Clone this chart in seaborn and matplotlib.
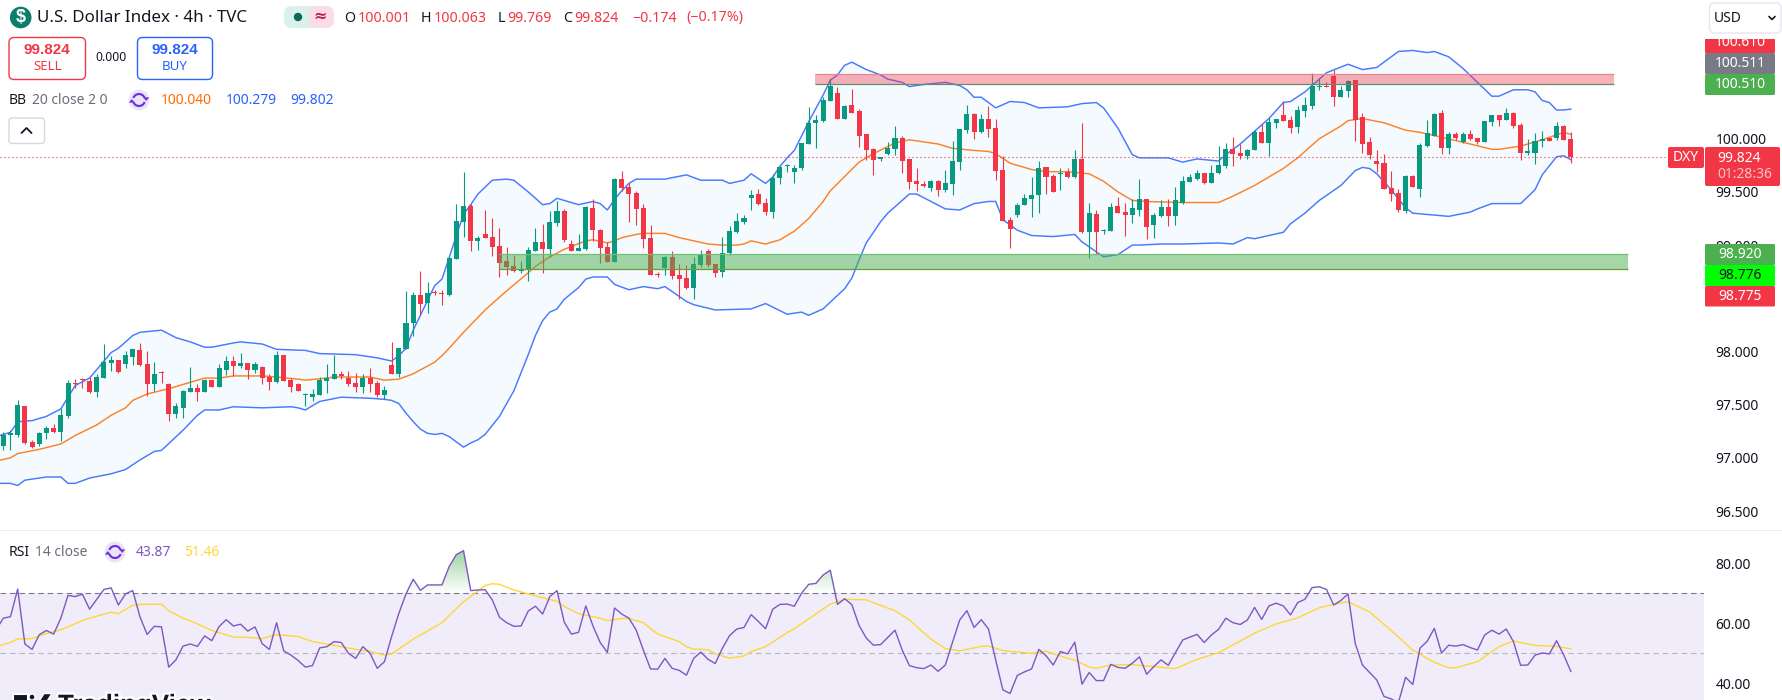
import numpy as np
import pandas as pd
import matplotlib
matplotlib.use("Agg")
import matplotlib.pyplot as plt
import matplotlib.patheffects as pe
from matplotlib.patches import Rectangle, FancyBboxPatch, Circle, Arc, Polygon
from matplotlib.path import Path
from matplotlib.colors import LinearSegmentedColormap
import seaborn as sns

# ---- 4h candles, one entry per bar ---------------------------------------
opens = [
    97.11,97.21,97.21,97.49,97.15,97.13,97.23,97.28,97.24,97.39,
    97.70,97.74,97.72,97.62,97.75,97.89,97.92,97.88,97.95,98.01,
    97.88,97.69,97.81,97.69,97.41,97.47,97.62,97.66,97.62,97.73,
    97.67,97.83,97.91,97.86,97.89,97.83,97.85,97.76,97.71,97.97,
    97.73,97.69,97.59,97.57,97.59,97.72,97.74,97.79,97.75,97.70,
    97.67,97.75,97.70,97.59,97.87,97.79,98.02,98.27,98.53,98.46,
    98.56,98.55,98.53,98.87,99.22,99.37,99.04,99.10,99.08,98.99,
    98.85,98.80,98.76,98.77,98.94,99.03,98.96,99.21,99.32,99.01,
    98.94,98.96,99.35,99.14,98.98,98.84,99.62,99.55,99.49,99.35,
    99.07,98.73,98.78,98.89,98.72,98.69,98.60,98.81,98.94,98.82,
    98.75,98.93,99.12,99.22,99.44,99.48,99.40,99.31,99.63,99.74,
    99.69,99.72,99.95,100.15,100.17,100.35,100.43,100.19,100.32,100.26,
    100.04,99.90,99.81,99.86,99.90,100.01,99.81,99.60,99.57,99.54,
    99.60,99.52,99.57,99.78,100.08,100.23,100.06,100.19,100.10,99.71,
    99.24,99.28,99.38,99.43,99.47,99.73,99.65,99.67,99.69,99.64,
    99.81,99.12,99.29,99.13,99.13,99.37,99.31,99.28,99.33,99.43,
    99.19,99.27,99.36,99.27,99.40,99.59,99.62,99.68,99.58,99.68,
    99.74,99.90,99.87,99.84,99.89,100.06,99.96,100.15,100.22,100.18,
    100.11,100.26,100.31,100.49,100.50,100.59,100.39,100.45,100.55,100.20,
    99.97,99.79,99.77,99.54,99.49,99.32,99.65,99.53,99.93,100.03,
    100.24,99.91,100.04,99.97,100.04,100.01,99.97,100.16,100.22,100.18,
    100.24,100.13,99.87,99.87,99.98,100.01,100.01,100.12,100.001,
]
highs = [
    97.24,97.26,97.54,97.49,97.17,97.24,97.30,97.32,97.47,97.73,
    97.74,97.75,97.76,97.79,98.07,97.96,97.92,98.00,98.02,98.08,
    98.00,97.90,97.82,97.70,97.52,97.64,97.85,97.69,97.74,97.73,
    97.88,97.96,97.96,97.99,97.89,97.90,97.86,97.79,98.00,97.97,
    97.75,97.70,97.61,97.65,97.76,97.88,97.97,97.82,97.82,97.80,
    97.79,97.84,97.72,97.68,98.09,98.03,98.57,98.56,98.76,98.65,
    98.58,98.58,98.89,99.39,99.69,99.39,99.09,99.33,99.25,99.16,
    98.98,98.91,98.85,98.98,99.16,99.20,99.32,99.41,99.34,99.05,
    99.10,99.37,99.43,99.15,99.03,99.63,99.70,99.58,99.51,99.39,
    99.19,98.75,98.90,98.94,98.82,98.81,98.89,98.95,98.96,98.82,
    99.08,99.18,99.30,99.28,99.52,99.53,99.44,99.67,99.74,99.76,
    99.75,99.96,100.30,100.22,100.39,100.56,100.49,100.32,100.47,100.28,
    100.04,99.91,99.83,99.97,100.12,100.03,99.81,99.72,99.60,99.61,
    99.61,99.71,99.98,100.09,100.32,100.24,100.23,100.31,100.19,99.84,
    99.26,99.40,99.48,99.64,99.79,99.73,99.67,99.72,99.72,99.89,
    100.15,99.40,99.33,99.15,99.40,99.45,99.40,99.43,99.62,99.43,
    99.30,99.42,99.43,99.55,99.65,99.67,99.71,99.68,99.75,99.93,
    99.96,100.02,99.95,99.90,100.08,100.14,100.20,100.19,100.35,100.21,
    100.31,100.39,100.62,100.57,100.53,100.65,100.50,100.55,100.55,100.24,
    100.02,99.89,99.86,99.70,99.53,99.66,99.66,99.96,100.18,100.24,
    100.27,100.06,100.06,100.06,100.08,100.01,100.17,100.22,100.22,100.29,
    100.25,100.15,100.00,100.05,100.07,100.01,100.16,100.13,100.063,
]
lows = [
    97.07,97.07,97.20,97.13,97.09,97.11,97.18,97.23,97.16,97.37,
    97.66,97.66,97.61,97.57,97.75,97.82,97.80,97.84,97.87,97.86,
    97.58,97.63,97.70,97.35,97.37,97.37,97.62,97.53,97.62,97.67,
    97.67,97.78,97.77,97.84,97.74,97.80,97.69,97.64,97.70,97.72,
    97.62,97.63,97.49,97.53,97.59,97.61,97.74,97.74,97.68,97.62,
    97.61,97.62,97.57,97.55,97.79,97.76,98.02,98.15,98.34,98.36,
    98.53,98.44,98.52,98.87,99.08,98.94,98.95,99.07,98.90,98.70,
    98.72,98.75,98.74,98.66,98.94,98.74,98.89,99.18,99.03,98.94,
    98.94,98.95,99.04,98.83,98.84,98.84,99.51,99.22,99.19,98.97,
    98.72,98.70,98.72,98.68,98.49,98.59,98.49,98.79,98.79,98.70,
    98.70,98.91,99.11,99.20,99.33,99.38,99.28,99.25,99.57,99.69,
    99.58,99.71,99.95,99.91,100.16,100.35,100.19,100.19,100.24,99.92,
    99.80,99.66,99.79,99.85,99.85,99.68,99.53,99.51,99.55,99.51,
    99.46,99.50,99.47,99.71,100.05,100.00,100.05,100.02,99.61,99.23,
    98.97,99.26,99.38,99.26,99.30,99.48,99.50,99.52,99.63,99.63,
    99.11,98.88,98.92,99.10,99.13,99.30,99.09,99.21,99.27,99.06,
    99.07,99.26,99.18,99.19,99.39,99.59,99.61,99.57,99.58,99.67,
    99.72,99.74,99.81,99.81,99.89,99.96,99.84,100.10,100.17,100.05,
    100.05,100.20,100.28,100.46,100.49,100.31,100.39,100.39,99.98,99.87,
    99.81,99.69,99.53,99.41,99.31,99.30,99.55,99.45,99.92,100.03,
    99.86,99.86,99.99,99.96,99.99,99.95,99.97,100.12,100.12,100.18,
    100.10,99.80,99.85,99.76,99.92,99.98,99.99,99.99,99.769,
]
closes = [
    97.21,97.23,97.50,97.14,97.10,97.23,97.28,97.24,97.40,97.70,
    97.69,97.73,97.62,97.76,97.90,97.92,97.81,97.97,98.02,97.87,
    97.69,97.79,97.80,97.41,97.49,97.63,97.66,97.62,97.73,97.67,
    97.84,97.91,97.86,97.89,97.83,97.88,97.75,97.71,97.97,97.72,
    97.67,97.63,97.60,97.60,97.73,97.75,97.79,97.77,97.69,97.67,
    97.75,97.69,97.59,97.64,97.79,98.03,98.27,98.53,98.45,98.55,
    98.55,98.54,98.88,99.23,99.37,99.04,99.07,99.07,98.98,98.83,
    98.79,98.76,98.77,98.95,99.03,98.96,99.22,99.32,99.05,98.94,
    98.97,99.36,99.14,98.97,98.84,99.62,99.54,99.48,99.34,99.06,
    98.72,98.72,98.89,98.71,98.68,98.60,98.82,98.92,98.81,98.74,
    98.93,99.13,99.23,99.25,99.47,99.39,99.31,99.63,99.73,99.75,
    99.72,99.96,100.15,100.18,100.36,100.50,100.19,100.31,100.24,100.03,
    99.89,99.80,99.83,99.91,100.01,99.79,99.59,99.57,99.56,99.60,
    99.52,99.58,99.79,100.09,100.23,100.06,100.19,100.09,99.70,99.23,
    99.15,99.38,99.44,99.47,99.72,99.64,99.50,99.68,99.64,99.81,
    99.12,99.30,99.12,99.14,99.36,99.30,99.28,99.35,99.43,99.17,
    99.28,99.36,99.27,99.42,99.60,99.64,99.68,99.58,99.68,99.75,
    99.90,99.86,99.84,99.89,100.06,99.96,100.16,100.19,100.17,100.10,
    100.27,100.32,100.50,100.50,100.49,100.39,100.46,100.54,100.18,99.95,
    99.85,99.76,99.53,99.48,99.33,99.65,99.55,99.94,100.05,100.23,
    99.91,100.04,100.01,100.04,100.00,99.97,100.17,100.22,100.18,100.24,
    100.12,99.87,99.88,99.98,100.00,99.98,100.12,99.99,99.824,
]

# ---- Bollinger Bands (20, close, 2): bar number and level of each vertex ---
bb_upper_bar = [-1,1,2,4,6,8,9,10,12,13,15,16,18,19,22,24,26,28,29,32,33,36,38,42,44,49,52,54,55,56,57,58,59,60,
                61,62,63,64,65,66,68,70,71,73,75,76,77,80,82,83,84,85,86,87,88,92,95,97,100,101,103,104,106,107,108,
                109,110,112,114,115,116,117,118,120,122,123,125,126,128,131,133,134,135,136,138,140,142,144,148,150,
                152,153,155,157,158,162,164,166,169,170,171,172,174,176,178,179,181,184,187,189,191,194,196,198,199,
                201,203,205,207,208,210,212,213,214,215,216,217,218]
bb_upper = [97.20,97.24,97.34,97.35,97.39,97.46,97.57,97.68,97.75,97.83,97.99,98.03,98.15,98.18,98.20,98.13,98.09,98.04,98.04,
            98.08,98.09,98.07,98.02,98.01,97.98,97.97,97.94,97.91,97.96,98.03,98.20,98.34,98.48,98.62,
            98.68,98.88,99.09,99.29,99.38,99.48,99.61,99.62,99.61,99.50,99.38,99.39,99.44,99.38,99.41,99.39,99.33,99.43,
            99.51,99.58,99.62,99.62,99.66,99.61,99.61,99.58,99.61,99.67,99.58,99.64,99.74,
            99.82,99.89,100.16,100.41,100.55,100.60,100.69,100.72,100.65,100.60,100.56,100.53,100.49,100.51,100.53,100.50,
            100.46,100.39,100.39,100.29,100.35,100.34,100.29,100.30,100.33,100.34,100.29,100.10,99.85,99.82,99.82,99.78,
            99.81,99.79,99.85,99.90,99.95,100.07,100.19,100.34,100.35,100.44,100.62,100.70,100.65,100.67,100.82,100.83,
            100.81,100.82,100.77,100.66,100.53,100.40,100.40,100.46,100.46,100.44,100.36,100.34,100.27,100.27,100.279]

bb_basis_bar = [-1,1,2,5,8,10,13,15,17,18,20,23,25,28,30,32,36,38,41,42,45,46,51,53,55,57,60,61,62,64,67,70,73,74,76,78,
                81,82,84,85,86,88,89,92,94,98,100,102,103,104,106,108,110,112,114,115,119,121,124,126,128,130,132,135,
                137,138,140,143,145,148,151,153,155,157,159,164,169,171,174,178,180,183,186,187,189,192,195,197,199,
                204,207,208,211,214,217,218]
bb_basis = [96.97,97.00,97.04,97.08,97.13,97.21,97.31,97.40,97.47,97.54,97.60,97.65,97.69,97.75,97.75,97.77,97.77,97.76,97.74,
            97.73,97.75,97.76,97.76,97.73,97.74,97.79,97.90,97.96,98.03,98.18,98.39,98.57,98.74,98.80,98.89,98.96,
            99.04,99.05,99.02,99.04,99.07,99.10,99.11,99.11,99.07,99.01,99.00,99.00,99.01,99.04,99.01,99.05,99.13,99.25,
            99.41,99.51,99.78,99.86,99.96,99.99,99.97,99.95,99.91,99.89,99.88,99.86,99.77,99.71,99.69,99.69,99.67,99.60,
            99.50,99.42,99.41,99.40,99.40,99.46,99.56,99.72,99.82,100.00,100.12,100.17,100.19,100.15,100.08,100.06,
            100.03,99.95,99.90,99.90,99.93,99.99,100.06,100.040]

bb_lower_bar = [-1,1,2,3,6,8,9,10,12,15,17,19,21,22,25,27,28,30,32,36,40,41,42,44,47,51,53,54,55,56,57,58,59,60,61,62,
                64,65,66,67,69,71,73,74,75,76,77,78,80,81,82,84,85,87,89,91,92,95,96,99,104,106,109,111,112,114,117,
                118,119,120,122,123,126,127,129,131,133,134,135,137,138,139,141,143,146,149,150,153,155,157,158,161,
                164,169,171,173,174,178,179,181,183,186,188,189,190,191,193,195,196,201,204,205,207,211,213,214,216,
                217,218]
bb_lower = [96.76,96.76,96.74,96.79,96.82,96.82,96.76,96.76,96.81,96.85,96.89,96.98,97.06,97.07,97.26,97.40,97.45,97.45,97.48,
            97.47,97.48,97.47,97.45,97.53,97.57,97.56,97.55,97.54,97.51,97.42,97.34,97.27,97.23,97.22,97.23,97.20,
            97.10,97.14,97.17,97.22,97.39,97.63,97.97,98.15,98.29,98.37,98.40,98.49,98.60,98.68,98.70,98.70,98.63,98.58,
            98.61,98.59,98.61,98.47,98.44,98.39,98.40,98.45,98.35,98.37,98.34,98.40,98.59,
            98.69,98.86,99.02,99.22,99.30,99.48,99.48,99.41,99.34,99.33,99.36,99.39,99.41,99.41,99.24,99.14,99.09,99.08,
            99.10,99.03,98.89,98.91,99.00,99.00,99.01,
            99.01,99.02,99.01,99.07,99.06,99.12,99.20,99.30,99.42,99.56,99.70,99.73,99.72,99.67,99.52,99.35,99.30,99.27,
            99.31,99.34,99.39,99.39,99.52,99.66,99.83,99.84,99.802]

# ---- RSI (14, close): the list starts one bar before the first candle ------
rsi_values = [
    57.8,
    61.7,62.2,71.4,53.1,51.3,56.2,57.6,56.4,61.7,69.3,
    68.9,69.7,64.7,68.0,71.3,71.8,66.1,69.8,70.9,62.2,
    56.3,59.0,58.8,45.4,47.8,52.4,53.1,52.3,55.8,54.2,
    58.9,61.2,59.1,59.7,57.4,58.8,53.2,51.3,60.2,50.8,
    49.4,47.6,45.4,45.9,51.8,52.2,53.9,53.6,50.0,48.3,
    52.2,50.0,45.0,47.2,55.6,63.3,69.8,74.7,71.0,72.8,
    72.8,72.8,78.9,82.9,84.2,70.9,71.1,71.2,67.8,62.0,
    60.2,59.0,59.1,64.1,65.7,63.1,68.9,70.9,60.4,56.4,
    57.0,65.8,59.1,53.6,50.3,65.1,63.1,61.7,57.8,51.1,
    44.8,44.7,48.3,45.0,44.3,42.7,48.3,50.4,48.0,46.6,
    51.7,55.9,58.1,58.6,62.9,60.6,58.2,64.7,66.3,66.4,
    65.7,70.0,73.0,73.3,76.1,77.7,66.3,68.2,66.2,59.3,
    55.1,52.7,52.9,55.3,57.7,51.1,45.9,45.2,44.9,46.1,
    44.0,46.1,53.7,61.1,64.2,58.6,61.2,58.1,47.8,37.8,
    36.6,42.6,43.8,44.8,51.3,49.2,46.1,50.6,49.8,53.7,
    39.7,43.6,40.9,40.9,46.3,45.3,45.0,46.7,48.8,43.0,
    45.6,47.8,46.0,50.2,54.4,55.4,56.3,53.6,56.1,58.0,
    61.7,60.2,59.6,61.1,65.3,61.3,65.8,66.7,65.8,62.8,
    66.9,68.0,71.9,72.2,71.3,66.1,67.6,69.8,53.3,46.1,
    43.6,41.1,35.6,34.8,33.5,42.0,39.6,51.7,54.0,58.3,
    50.1,52.7,52.4,52.9,51.9,51.1,56.1,57.7,56.4,58.1,
    53.9,46.0,46.1,49.4,50.1,49.8,54.2,49.4,43.87,
]
rsi_ma_bar = [-1,1,2,4,6,8,11,12,15,16,18,19,22,23,25,27,29,32,34,36,38,41,43,47,50,51,53,54,57,61,64,65,67,68,69,71,73,77,
              78,80,83,84,86,87,89,91,94,95,96,98,99,101,103,104,106,109,110,113,115,117,120,123,124,126,129,131,133,136,
              137,139,143,145,148,149,151,152,154,157,163,166,167,169,171,174,177,180,183,185,187,190,193,196,198,199,201,
              202,205,208,210,213,216,218]
rsi_ma = [52.2,53.6,54.8,54.9,56.6,57.8,60.9,61.7,63.7,63.2,66.0,66.3,66.4,64.2,61.7,59.8,57.6,55.4,55.3,54.9,56.2,55.6,53.9,
          52.2,50.9,50.7,49.4,49.8,54.7,60.2,67.2,68.9,72.6,73.2,73.0,71.1,69.8,67.3,65.6,63.2,61.7,
          60.9,61.6,61.6,60.2,56.4,53.9,52.2,51.4,51.2,49.8,48.4,49.1,50.6,52.2,56.9,58.2,63.1,66.4,68.0,67.8,65.1,64.2,
          61.1,54.7,51.6,50.8,52.3,52.4,50.9,50.0,50.7,48.3,47.8,45.4,45.0,46.1,46.2,44.9,
          48.0,48.7,50.2,52.8,56.7,59.8,61.8,65.2,66.3,67.2,63.8,57.6,51.1,48.3,47.0,45.2,45.2,47.2,52.2,54.1,52.6,52.3,51.46]

# ---- Levels and labels -----------------------------------------------------
last_price = 99.824
supply_zone = (100.51, 100.61, 112.9, 224.0)   # low, high, first bar, last bar
demand_zone = (98.775, 98.92, 68.9, 226.0)
price_ticks = [100.0, 99.5, 99.0, 98.0, 97.5, 97.0, 96.5]
rsi_ticks = [80, 60, 40]

UP = "#089981"
DOWN = "#F23645"
BLUE = "#2962FF"
ORANGE = "#FF6D00"
PURPLE = "#7E57C2"
YELLOW = "#FDD835"
INK = "#131722"
MUTED = "#6A6D78"

sns.set_theme(style="white")
plt.rcParams["font.family"] = ["Noto Sans", "DejaVu Sans"]
plt.rcParams["axes.unicode_minus"] = False

W, H = 1782, 700
fig = plt.figure(figsize=(W / 100, H / 100), dpi=100, facecolor="white")


def px_axes(left, top, right, bottom, **kw):
    return fig.add_axes([left / W, 1 - bottom / H, (right - left) / W, (bottom - top) / H], **kw)


X_LIMITS = (-0.459, 236.5)
ax = px_axes(0, 0, 1704, 529)
ax_rsi = px_axes(0, 531, 1704, 700)

# ---- Price pane ------------------------------------------------------------
bars = np.arange(len(closes))
o, h, l, c = map(np.array, (opens, highs, lows, closes))
up = c >= o
colors = np.where(up, UP, DOWN)

ax.fill(np.r_[bb_upper_bar, bb_lower_bar[::-1]], np.r_[bb_upper, bb_lower[::-1]],
        color="#F4FAFE", lw=0, zorder=1)
for xs, ys, col in ((bb_upper_bar, bb_upper, BLUE), (bb_lower_bar, bb_lower, BLUE), (bb_basis_bar, bb_basis, ORANGE)):
    frame = pd.DataFrame({"bar": xs, "level": ys})
    sns.lineplot(data=frame, x="bar", y="level", color=col, linewidth=1.05, alpha=0.85,
                 sort=False, estimator=None, errorbar=None, ax=ax, zorder=2)

ax.vlines(bars, l, h, colors=colors, linewidth=0.8, zorder=3)
ax.bar(bars, np.maximum(np.abs(c - o), 0.009), bottom=np.minimum(o, c), width=0.7, color=colors, linewidth=0, zorder=4)

for (low, high, first, last), fill, top_edge, bottom_edge in (
    (supply_zone, (0.949, 0.212, 0.271, 0.38), "#E8858E", "#5E8F70"),
    (demand_zone, (0.298, 0.686, 0.314, 0.50), "#73BF77", "#6F9A3A"),
):
    ax.add_patch(Rectangle((first, low), last - first, high - low, facecolor=fill, edgecolor="none", zorder=5))
    ax.hlines(high, first, last, colors=top_edge, linewidth=0.9, zorder=6)
    ax.hlines(low, first, last, colors=bottom_edge, linewidth=0.9, zorder=6)

ax.hlines(last_price, X_LIMITS[0], (1668 - 3.3) / 7.19, colors=DOWN, linewidth=0.8,
          linestyles=(0, (1, 2.6)), zorder=7)

ax.set_xlim(*X_LIMITS)
ax.set_ylim(96.331, 101.304)
ax.yaxis.tick_right()
ax.set_yticks(price_ticks)
ax.set_yticklabels([f"{t:.3f}" for t in price_ticks])
ax.set_xticks([])
ax.set_xlabel("")
ax.set_ylabel("")
ax.tick_params(axis="y", length=0, pad=8.3, labelsize=10, labelcolor=INK)
for side in ax.spines.values():
    side.set_visible(False)

# ---- RSI pane --------------------------------------------------------------
rsi_bars = np.arange(-1, len(closes))
rsi_arr = np.array(rsi_values)
ax_rsi.add_patch(Rectangle((X_LIMITS[0], 30), X_LIMITS[1] - X_LIMITS[0], 40, facecolor="#F0ECF9", edgecolor="none", zorder=1))
ax_rsi.axhline(70, color="#787B86", linewidth=0.8, linestyle=(0, (5, 3.5)), zorder=2)
ax_rsi.axhline(50, color="#B6B8C0", linewidth=0.8, linestyle=(0, (5, 3.5)), zorder=2)

# Green fade above the overbought line, clipped to the area under the RSI curve
overbought = ax_rsi.fill_between(rsi_bars, 70, rsi_arr, where=rsi_arr > 70, interpolate=True, lw=0)
clip_path = Path.make_compound_path(*overbought.get_paths())
overbought.remove()
fade = LinearSegmentedColormap.from_list("fade", [(0.298, 0.686, 0.314, 0.0), (0.298, 0.686, 0.314, 0.55)])
img = ax_rsi.imshow(np.linspace(1, 0, 64).reshape(-1, 1), cmap=fade, aspect="auto",
                    extent=(X_LIMITS[0], X_LIMITS[1], 70, rsi_arr.max()), zorder=3)
img.set_clip_path(clip_path, ax_rsi.transData)

sns.lineplot(x=rsi_ma_bar, y=rsi_ma, color=YELLOW, linewidth=1.0, sort=False, estimator=None,
             errorbar=None, ax=ax_rsi, zorder=4)
sns.lineplot(x=rsi_bars, y=rsi_arr, color=PURPLE, linewidth=1.0, sort=False, estimator=None,
             errorbar=None, ax=ax_rsi, zorder=5)

ax_rsi.set_xlim(*X_LIMITS)
ax_rsi.set_ylim(34.43, 90.77)
ax_rsi.yaxis.tick_right()
ax_rsi.set_yticks(rsi_ticks)
ax_rsi.set_yticklabels([f"{t:.2f}" for t in rsi_ticks])
ax_rsi.set_xticks([])
ax_rsi.set_xlabel("")
ax_rsi.set_ylabel("")
ax_rsi.tick_params(axis="y", length=0, pad=8.3, labelsize=10, labelcolor=INK)
for side in ax_rsi.spines.values():
    side.set_visible(False)

# ---- Interface overlay, in pixel coordinates ------------------------------
ui = fig.add_axes([0, 0, 1, 1], zorder=20)
ui.set_xlim(0, W)
ui.set_ylim(H, 0)
ui.axis("off")
ui.patch.set_alpha(0)


def label(x, y, text, color=INK, size=10, weight="normal", ha="left", va="center", **kw):
    if weight == "bold":
        kw.setdefault("family", "Liberation Sans")
    return ui.text(x, y, text, color=color, fontsize=size, fontweight=weight, ha=ha, va=va, **kw)


def box(x0, y0, x1, y1, face="white", edge="none", lw=1.0, radius=2.0, **kw):
    patch = FancyBboxPatch((x0 + radius, y0 + radius), x1 - x0 - 2 * radius, y1 - y0 - 2 * radius,
                           boxstyle=f"round,pad={radius},rounding_size={radius}",
                           facecolor=face, edgecolor=edge, linewidth=lw, **kw)
    ui.add_patch(patch)
    return patch


def refresh_icon(cx, cy):
    ui.add_patch(Circle((cx, cy), 10.5, facecolor="#EBE4F7", edgecolor="none"))
    for start, end, tip in ((200, 340, (cx + 7.2, cy - 2.6)), (20, 160, (cx - 7.2, cy + 2.6))):
        ui.add_patch(Arc((cx, cy), 12, 12, theta1=start, theta2=end, color="#6A2BE0", lw=1.5))
        sign = 1 if tip[0] > cx else -1
        ui.add_patch(Polygon([(tip[0] - 3 * sign, tip[1]), (tip[0] + 3 * sign, tip[1]),
                              (tip[0], tip[1] + 3.5 * sign)], facecolor="#6A2BE0", edgecolor="none"))


# Header
ui.add_patch(Circle((20.7, 17.5), 10.8, facecolor="#0B7F6C", edgecolor="none"))
label(20.7, 17.3, "$", color="white", size=13, weight="bold", ha="center")
label(37, 18, "U.S. Dollar Index · 4h · TVC", size=12.2)
box(284, 6, 320, 28, face="#D9F0EC", radius=8)
box(308, 6, 334, 28, face="#FCDCE6", radius=8)
ui.add_patch(Rectangle((300, 6), 9, 22, facecolor="#D9F0EC", edgecolor="none"))
ui.add_patch(Circle((298, 17), 4.2, facecolor="#0A6A5A", edgecolor="none"))
label(320, 16.5, "≈", color="#B21C5E", size=11.5, weight="bold", ha="center", family="DejaVu Sans")

for x, text, col in ((344.4, "O", INK), (357.7, "100.001", DOWN), (421, "H", INK), (433.6, "100.063", DOWN),
                     (497.5, "L", INK), (507, "99.769", DOWN), (563, "C", INK), (574, "99.824", DOWN),
                     (632, "−0.174", DOWN), (686, "(−0.17%)", DOWN)):
    label(x, 18, text, color=col, size=10.2)

box(9, 37.5, 85.5, 79.5, edge=DOWN, lw=1.0, radius=5)
label(47.3, 50, "99.824", color=DOWN, size=11, weight="bold", ha="center")
label(47.3, 67, "SELL", color=DOWN, size=9.6, ha="center")
label(111, 57.5, "0.000", size=8.8, ha="center")
box(137.5, 37.5, 212.5, 79.5, edge=BLUE, lw=1.0, radius=5)
label(175, 50, "99.824", color=BLUE, size=11, weight="bold", ha="center")
label(175, 67, "BUY", color=BLUE, size=9.6, ha="center")

label(9, 100, "BB", size=10)
label(32, 100, "20 close 2 0", color=MUTED, size=10)
refresh_icon(139, 100)
label(161, 100, "100.040", color=ORANGE, size=10)
label(226, 100, "100.279", color=BLUE, size=10)
label(290, 100, "99.802", color=BLUE, size=10)

box(9, 118, 44.5, 143.5, edge="#D6D8DE", lw=1.0, radius=3)
ui.plot([21.5, 26.5, 31.5], [133, 128, 133], color=INK, lw=1.3, solid_capstyle="round")

# Right-hand price tags
ui.add_patch(Rectangle((0, 530), W, 1.4, facecolor="#E9EAEE", edgecolor="none"))
box(1709.5, 3, 1781, 33, edge="#E6E7EB", lw=1.0, radius=5)
label(1714, 18, "USD", size=10)
ui.plot([1769, 1772, 1775], [16.5, 19.5, 16.5], color=INK, lw=1.2)

tag_clip = Rectangle((1700, 39), 82, 14, transform=ui.transData)
tag = box(1705, 30, 1775, 53.5, face=DOWN, radius=2)
tag.set_clip_path(tag_clip)
txt = label(1740, 43, "100.610", color="white", size=10, ha="center")
txt.set_clip_path(tag_clip)
txt.set_clip_on(True)
for y0, y1, face, text, ink in ((53, 74, "#787B86", "100.511", "white"), (74, 95, "#4CAF50", "100.510", "white"),
                                (244, 265, "#4CAF50", "98.920", "white"), (265, 286, "#00FF00", "98.776", INK),
                                (286, 306.5, DOWN, "98.775", "white")):
    box(1705, y0, 1775, y1, face=face, radius=1.5)
    label(1740, (y0 + y1) / 2, text, color=ink, size=10, ha="center")

box(1668, 147, 1704, 168, face=DOWN, radius=2)
label(1686, 157.5, "DXY", color="white", size=10, ha="center")
box(1705, 147, 1780, 186, face=DOWN, radius=2)
label(1739, 158, f"{last_price:.3f}", color="white", size=10, ha="center")
label(1745, 175, "01:28:36", color="#FBC1C6", size=10, ha="center")

# RSI legend
label(9, 552, "RSI", size=10)
label(35, 552, "14 close", color=MUTED, size=10)
refresh_icon(115, 552)
label(136, 552, "43.87", color=PURPLE, size=10)
label(184.5, 552, "51.46", color=YELLOW, size=10)

# Watermark running off the lower edge
halo = [pe.withStroke(linewidth=3.5, foreground="white")]
logo = [Rectangle((13, 693.5), 15, 12, facecolor=INK, edgecolor="white", lw=1.5),
        Circle((32, 697), 3.0, facecolor=INK, edgecolor="white", lw=1.0),
        Polygon([(36, 706), (44, 693.5), (52, 693.5), (44, 706)], facecolor=INK, edgecolor="white", lw=1.0)]
for shape in logo:
    ui.add_patch(shape)
label(58, 712.6, "TradingView", size=18.7, weight="bold", va="baseline", path_effects=halo)

fig.savefig("out.png", dpi=100)
